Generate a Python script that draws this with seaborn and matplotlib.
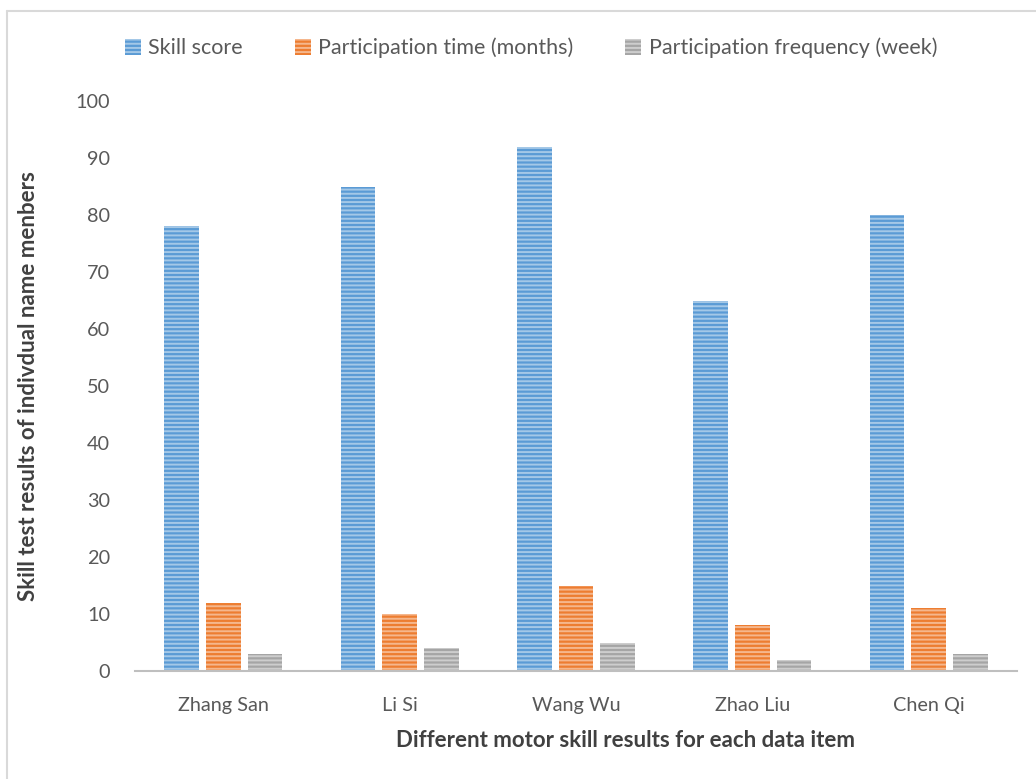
import matplotlib
matplotlib.use("Agg")
import matplotlib.pyplot as plt
from matplotlib.lines import Line2D
from matplotlib.patches import Patch
import seaborn as sns
import pandas as pd

members = ["Zhang San", "Li Si", "Wang Wu", "Zhao Liu", "Chen Qi"]
skill_score = [78, 85, 92, 65, 80]
participation_months = [12, 10, 15, 8, 11]
participation_weekly = [3, 4, 5, 2, 3]
series_names = ["Skill score", "Participation time (months)", "Participation frequency (week)"]
series_colors = ["#5B9BD5", "#ED7D31", "#A5A5A5"]

df = pd.DataFrame({
    "member": members * 3,
    "value": skill_score + participation_months + participation_weekly,
    "series": [series_names[0]] * 5 + [series_names[1]] * 5 + [series_names[2]] * 5,
})

sns.set_theme(style="white")
plt.rcParams["font.family"] = ["Lato", "DejaVu Sans"]
plt.rcParams["hatch.linewidth"] = 1.4

STRIPE = (1, 1, 1, 0.45)

fig = plt.figure(figsize=(10.36, 7.79), dpi=100)
ax = fig.add_axes([135 / 1036, 108 / 779, (1017 - 135) / 1036, (671 - 101) / 779])

sns.barplot(data=df, x="member", y="value", hue="series", order=members,
            hue_order=series_names, palette=series_colors, width=0.71, gap=0.17,
            linewidth=0, saturation=1, ax=ax, legend=False)

# horizontal light stripes over each bar (hatch colour follows edgecolor)
for bar in ax.patches:
    bar.set_edgecolor(STRIPE)
    bar.set_linewidth(0)
    bar.set_hatch("----")

ax.set_ylim(0, 100)
ax.set_yticks(range(0, 101, 10))
ax.set_xlim(-0.5, len(members) - 0.5)
for side in ["top", "right", "left"]:
    ax.spines[side].set_visible(False)
ax.spines["bottom"].set_color("#bfbfbf")
ax.spines["bottom"].set_linewidth(1.5)
ax.tick_params(axis="both", length=0, labelsize=14.3, labelcolor="#595959")
ax.tick_params(axis="x", pad=19)
ax.tick_params(axis="y", pad=18)

ax.set_xlabel("Different motor skill results for each data item", fontsize=16,
              fontweight="bold", color="#404040", labelpad=11,
              x=(626 - 135) / (1017 - 135))
ax.set_ylabel("Skill test results of indivdual name menbers", fontsize=16,
              fontweight="bold", color="#404040", labelpad=26)

handles = [Patch(facecolor=c, hatch="----", edgecolor=STRIPE, linewidth=0) for c in series_colors]
fig.legend(handles, series_names, loc="center", bbox_to_anchor=(531 / 1036, 1 - 48 / 779),
           ncol=3, frameon=False, fontsize=15.5, labelcolor="#595959",
           handlelength=0.75, handleheight=0.75, handletextpad=0.35, columnspacing=2.4)

# light outer border along top and left edges
fig.add_artist(Line2D([7 / 1036, 7 / 1036], [0, 1 - 11 / 779], color="#d9d9d9", lw=1.5))
fig.add_artist(Line2D([7 / 1036, 1], [1 - 11 / 779, 1 - 11 / 779], color="#d9d9d9", lw=1.5))

fig.savefig("out.png", dpi=100)
